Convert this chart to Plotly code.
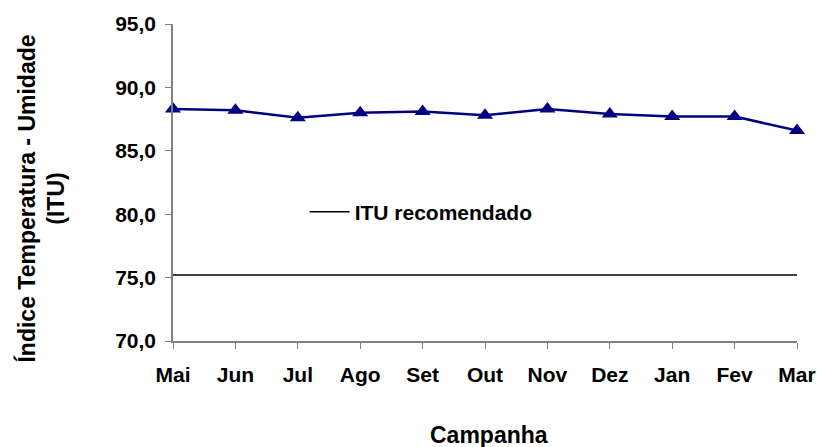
import plotly.graph_objects as go

months = ["Mai", "Jun", "Jul", "Ago", "Set", "Out", "Nov", "Dez", "Jan", "Fev", "Mar"]
itu_values = [88.3, 88.2, 87.6, 88.0, 88.1, 87.8, 88.3, 87.9, 87.7, 87.7, 86.6]
itu_recomendado = [75.2] * len(months)
y_ticks = [70, 75, 80, 85, 90, 95]
y_tick_labels = ["70,0", "75,0", "80,0", "85,0", "90,0", "95,0"]

FONT = "Liberation Sans, Arial, sans-serif"
fsz = 21

fig = go.Figure()
fig.add_trace(go.Scatter(
    x=months, y=itu_recomendado, mode="lines", name="<b>ITU recomendado</b>",
    line=dict(color="black", width=1.5), showlegend=True, cliponaxis=False,
))
fig.add_trace(go.Scatter(
    x=months, y=itu_values, mode="lines+markers", name="ITU",
    line=dict(color="#000080", width=2.5),
    marker=dict(symbol="triangle-up", size=14, color="#000080"),
    showlegend=False, cliponaxis=False,
))

fig.update_layout(
    width=817, height=447,
    margin=dict(l=173, r=20, t=24, b=106, autoexpand=False),
    plot_bgcolor="white", paper_bgcolor="white",
    font=dict(family=FONT, size=fsz, color="black"),
    legend=dict(x=0.211, y=0.407, xanchor="left", yanchor="middle",
                bgcolor="rgba(0,0,0,0)", font=dict(size=fsz, family=FONT),
                itemwidth=40),
    xaxis=dict(
        type="category", range=[0, 10], showline=True, linecolor="#808080", linewidth=1.5,
        ticks="outside", ticklen=6, tickcolor="#808080", showgrid=False,
        tickfont=dict(size=fsz, family=FONT), automargin=False,
        ticklabeloverflow="allow", ticklabelstandoff=8,
        tickprefix="<b>", ticksuffix="</b>",
    ),
    yaxis=dict(
        range=[70, 95], tickvals=y_ticks, ticktext=["<b>%s</b>" % t for t in y_tick_labels],
        showline=True, linecolor="#808080", linewidth=1.5,
        ticks="outside", ticklen=6, tickcolor="#808080", showgrid=False, zeroline=False,
        tickfont=dict(size=fsz, family=FONT), automargin=False, ticklabelstandoff=5,
    ),
    annotations=[
        dict(text="<b>Índice Temperatura - Umidade<br>(ITU)</b>", textangle=-90,
             xref="paper", yref="paper", x=-0.2115, y=0.4495, xanchor="center", yanchor="middle",
             showarrow=False, font=dict(size=23, family=FONT)),
        dict(text="<b>Campanha</b>", xref="paper", yref="paper", x=0.506, y=-0.297,
             xanchor="center", yanchor="middle", showarrow=False,
             font=dict(size=23, family=FONT)),
    ],
)

# remove the browser's default 8px body margin so the figure fills the window
fig.write_html(
    "out.html",
    config={"displayModeBar": False},
    post_script="document.body.style.margin='0';document.body.style.overflow='hidden';",
)
